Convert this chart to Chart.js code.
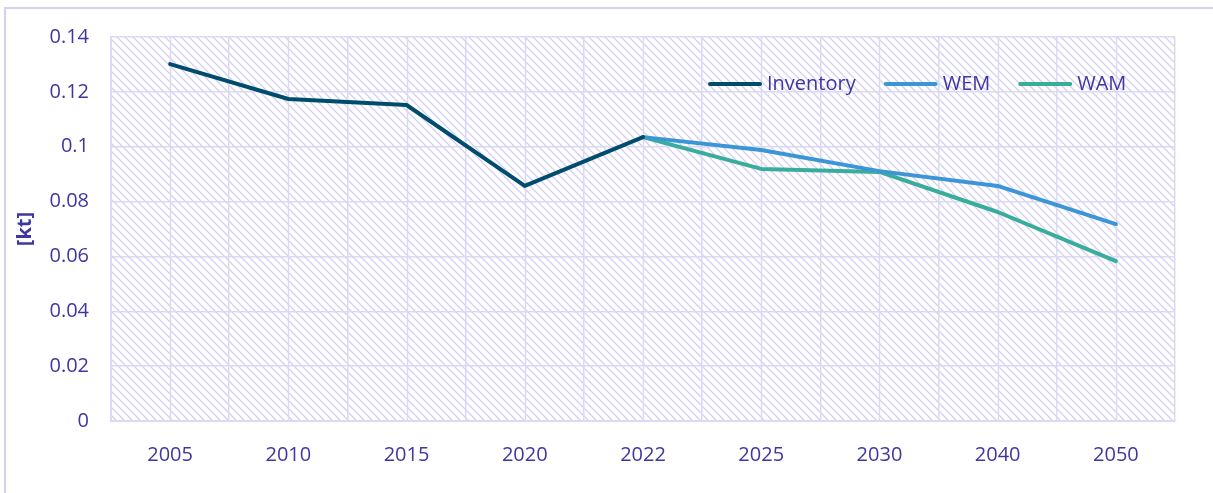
<!DOCTYPE html>
<html>
<head>
<meta charset="utf-8">
<script src="https://cdn.jsdelivr.net/npm/chart.js@4"></script>
<style>
  html, body { margin: 0; padding: 0; background: #fff; }
  #wrap { width: 1213px; height: 493px; position: relative; }
</style>
</head>
<body>
<div id="wrap"><canvas id="chart" width="1213" height="493"></canvas></div>
<script>
var years = ["2005", "2010", "2015", "2020", "2022", "2025", "2030", "2040", "2050"];
var inventory = [0.1301, 0.1174, 0.1152, 0.0857, 0.1035, null, null, null, null];
var wem = [null, null, null, null, 0.1035, 0.0988, 0.0911, 0.0857, 0.0718];
var wam = [null, null, null, null, 0.1035, 0.0919, 0.0908, 0.0762, 0.0583];

var textColor = '#3f37a0';
var gridColor = '#dcd9f3';
var fontFamily = '"Open Sans", "Noto Sans", sans-serif';

function hatchPattern(ctx) {
	var c = document.createElement('canvas');
	c.width = 8; c.height = 8;
	var p = c.getContext('2d');
	p.fillStyle = '#ffffff';
	p.fillRect(0, 0, 8, 8);
	p.strokeStyle = '#d3cff3';
	p.lineWidth = 1.3;
	p.beginPath();
	p.moveTo(-2, -2); p.lineTo(10, 10);
	p.moveTo(-2, 6); p.lineTo(2, 10);
	p.moveTo(6, -2); p.lineTo(10, 2);
	p.stroke();
	return ctx.createPattern(c, 'repeat');
}

var background = {
	id: 'background',
	beforeDraw: function(chart) {
		var ctx = chart.ctx, a = chart.chartArea, x = chart.scales.x;
		ctx.save();
		// frame
		ctx.strokeStyle = '#d4d0f0';
		ctx.lineWidth = 2;
		ctx.beginPath();
		ctx.moveTo(5, 493); ctx.lineTo(5, 8); ctx.lineTo(1213, 8);
		ctx.stroke();
		// hatched plot area
		ctx.fillStyle = hatchPattern(ctx);
		ctx.fillRect(a.left, a.top, a.right - a.left, a.bottom - a.top);
		// minor vertical lines at category centres
		ctx.strokeStyle = gridColor;
		ctx.lineWidth = 1.5;
		ctx.beginPath();
		for (var i = 0; i < years.length; i++) {
			var px = Math.round(x.getPixelForValue(i)) + 0.5;
			ctx.moveTo(px, a.top); ctx.lineTo(px, a.bottom);
		}
		ctx.stroke();
		ctx.restore();
	}
};

var legendInside = {
	id: 'legendInside',
	afterDraw: function(chart) {
		var ctx = chart.ctx;
		ctx.save();
		ctx.font = '20px ' + fontFamily;
		ctx.textBaseline = 'middle';
		var x0 = 708, y0 = 84;
		chart.data.datasets.forEach(function(ds) {
			ctx.strokeStyle = ds.borderColor;
			ctx.lineWidth = 4;
			ctx.lineCap = 'round';
			ctx.beginPath();
			ctx.moveTo(x0 + 2, y0); ctx.lineTo(x0 + 52, y0);
			ctx.stroke();
			ctx.fillStyle = textColor;
			ctx.fillText(ds.label, x0 + 59, y0);
			x0 += 59 + ctx.measureText(ds.label).width + 28;
		});
		ctx.restore();
	}
};

var config = {
	type: 'line',
	data: {
		labels: years,
		datasets: [{
			label: 'Inventory',
			data: inventory,
			borderColor: '#004c6d',
			backgroundColor: '#004c6d'
		}, {
			label: 'WEM',
			data: wem,
			borderColor: '#3c96d6',
			backgroundColor: '#3c96d6'
		}, {
			label: 'WAM',
			data: wam,
			borderColor: '#38ad9c',
			backgroundColor: '#38ad9c'
		}]
	},
	options: {
		responsive: false,
		animation: false,
		devicePixelRatio: 1,
		layout: { padding: { left: 5, right: 38, top: 37, bottom: 0 } },
		elements: {
			line: { borderWidth: 4, tension: 0, borderJoinStyle: 'round', borderCapStyle: 'round' },
			point: { radius: 0, hoverRadius: 0 }
		},
		plugins: {
			legend: { display: false },
			tooltip: { enabled: false }
		},
		scales: {
			x: {
				offset: true,
				grid: { offset: true, color: gridColor, lineWidth: 1.5, drawTicks: false },
				border: { color: gridColor, width: 2 },
				ticks: { color: textColor, font: { family: fontFamily, size: 20 }, padding: 22, maxRotation: 0 },
				afterFit: function(s) { s.height = 72; }
			},
			y: {
				min: 0,
				max: 0.14,
				grid: { color: gridColor, lineWidth: 1.5, drawTicks: false },
				border: { color: gridColor, width: 2 },
				ticks: {
					stepSize: 0.02,
					color: textColor,
					font: { family: fontFamily, size: 20 },
					padding: 22,
					callback: function(v) { return +v.toFixed(2); }
				},
				title: {
					display: true,
					text: '[kt]',
					color: textColor,
					font: { family: fontFamily, size: 20, weight: 'bold' },
					padding: { top: 8, bottom: 0 }
				},
				afterFit: function(s) { s.width = 106; }
			}
		}
	},
	plugins: [background, legendInside]
};

window.onload = function() {
	window.myLine = new Chart(document.getElementById('chart'), config);
};
</script>
</body>
</html>
